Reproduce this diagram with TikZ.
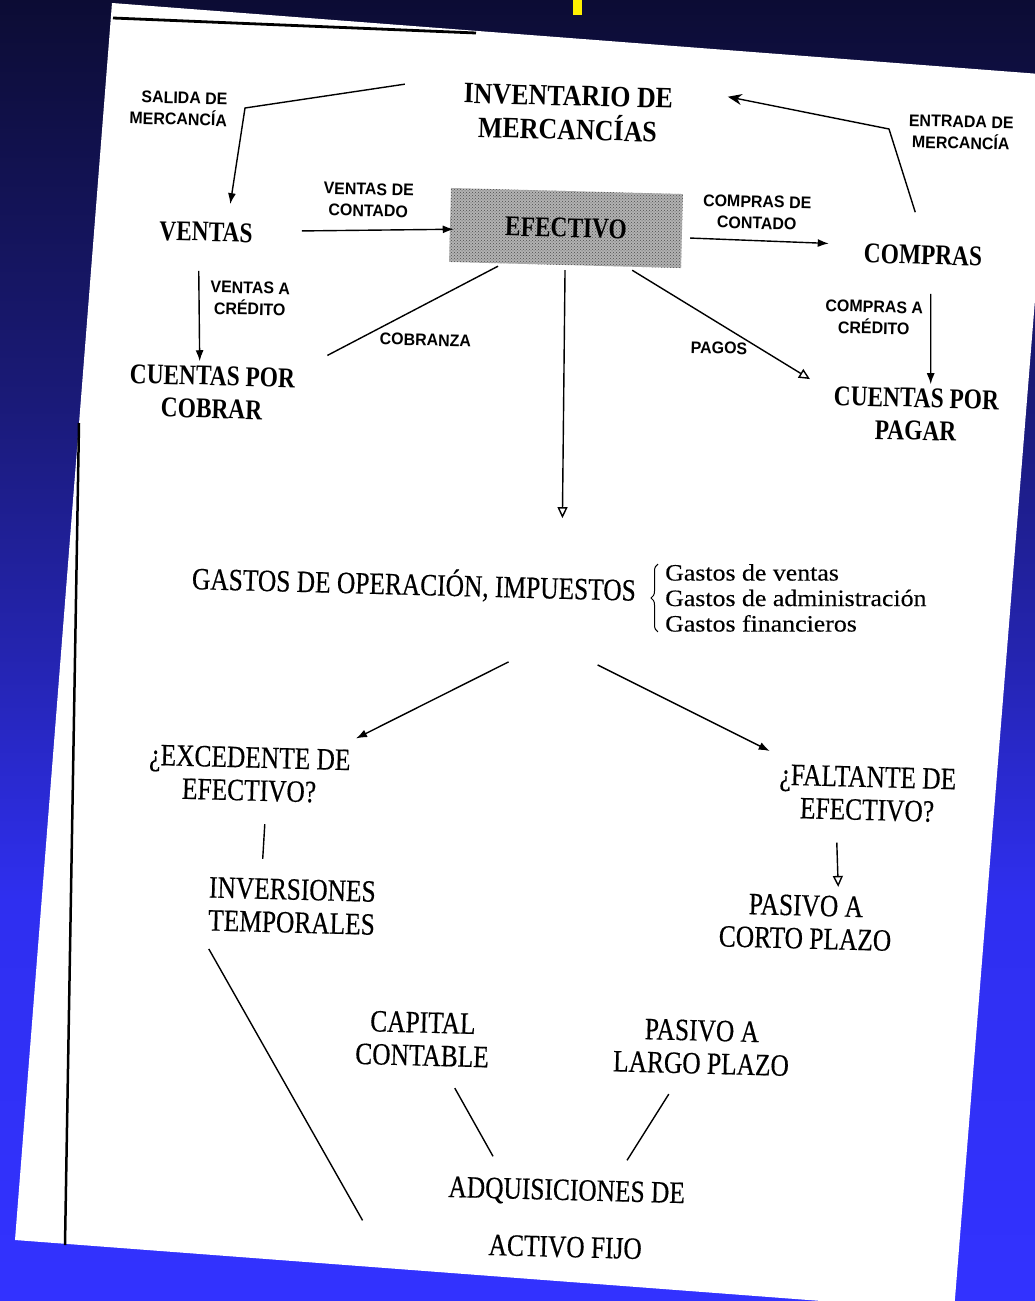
\documentclass[tikz,border=0pt]{standalone}
\usepackage{fontspec}
\setmainfont{Liberation Serif}
\newfontfamily\cabezafont[FakeStretch=0.82]{Liberation Serif}
\newfontfamily\invfont[FakeStretch=0.88]{Liberation Serif}
\newfontfamily\rubrofont[FakeStretch=0.82, FakeBold=0.4]{Liberation Serif}
\newfontfamily\gastosfont[FakeStretch=1.1, FakeBold=0.3]{Liberation Serif}
\newfontfamily\etiqfont[FakeStretch=0.95]{Liberation Sans}
\definecolor{azultop}{RGB}{12, 12, 52}
\definecolor{azulalto}{RGB}{26, 26, 120}
\definecolor{azulmedio}{RGB}{36, 36, 175}
\definecolor{azulbajo}{RGB}{47, 47, 240}
\definecolor{azulfondo}{RGB}{50, 50, 255}
\definecolor{amarillo}{RGB}{255, 240, 0}
\usetikzlibrary{arrows.meta, positioning, calc, decorations.pathreplacing, patterns}
\pgfdeclareverticalshading{fondo}{100bp}{color(0bp)=(azulfondo); color(25bp)=(azulfondo); color(40.4bp)=(azulbajo); color(50bp)=(azulmedio); color(59.6bp)=(azulalto); color(75bp)=(azultop); color(100bp)=(azultop)}

\begin{document}
\begin{tikzpicture}[
  x=1pt, y=-1pt,
  cabeza/.style={font=\cabezafont\bfseries\fontsize{28.5}{33}\selectfont, align=center, inner sep=0pt, rotate=-1.5},
  etiq/.style={font=\etiqfont\bfseries\fontsize{16.8}{21.5}\selectfont, align=center, inner sep=0pt, rotate=-1.5},
  rubro/.style={font=\rubrofont\fontsize{31}{33}\selectfont, align=center, inner sep=0pt, rotate=-1.5},
  linea/.style={line width=1.4pt},
  flecha/.style={linea, -{Latex[length=11pt, width=8pt]}},
  flechab/.style={linea, -{Triangle[open, length=11pt, width=10pt]}}
]
  \useasboundingbox (0,0) rectangle (1035,1301);

  % Fondo y hoja
  \begin{scope}
    \clip (0,0) rectangle (1035,1301);
    \shade[shading=fondo] (0,0) rectangle (1035,1301);
    \fill[white] (112,3) -- (1053,75) -- (954,1311) -- (15,1240) -- cycle;
    \draw[line width=2.8pt] (113,18) -- (476,33);
    \draw[line width=2.5pt] (79,423) -- (65,1245);
    \fill[amarillo] (573,0) rectangle (582,15);
  \end{scope}

  % Cuentas principales
  \node[cabeza, font=\invfont\bfseries\fontsize{29.5}{34}\selectfont] (inv) at (568,113) {INVENTARIO DE\\MERCANCÍAS};
  \node[cabeza, minimum width=232pt, minimum height=74pt, preaction={fill=black!30}, pattern=crosshatch dots, pattern color=black!70] (efect) at (566,228) {EFECTIVO};
  \node[cabeza] (ventas) at (206,232) {VENTAS};
  \node[cabeza] (compras) at (923,255) {COMPRAS};
  \node[cabeza] (cxc) at (212,392.5) {CUENTAS POR\\COBRAR};
  \node[cabeza] (cxp) at (916,414.5) {CUENTAS POR\\PAGAR};

  % Etiquetas de los flujos
  \node[etiq, align=right] (salidalbl) at (178.5,108.5) {SALIDA DE\\MERCANCÍA};
  \node[etiq] (ventascont) at (368.5,200) {VENTAS DE\\CONTADO};
  \node[etiq] (comprascont) at (757,212.5) {COMPRAS DE\\CONTADO};
  \node[etiq] (entradalbl) at (961,132.5) {ENTRADA DE\\MERCANCÍA};
  \node[etiq] (ventascred) at (250,298.5) {VENTAS A\\CRÉDITO};
  \node[etiq] (comprascred) at (874,317.5) {COMPRAS A\\CRÉDITO};
  \node[etiq] (cobranzalbl) at (425.5,340) {COBRANZA};
  \node[etiq] (pagoslbl) at (719,348) {PAGOS};

  % Gastos
  \node[rubro] (gastos) at (414,584) {GASTOS DE OPERACIÓN, IMPUESTOS};
  \node[font=\gastosfont\fontsize{23.5}{25.5}\selectfont, align=left, anchor=west, inner sep=0pt] (gastoslist) at (665,598) {Gastos de ventas\\Gastos de administración\\Gastos financieros};
  \draw[line width=1pt, decorate, decoration={brace, amplitude=7pt}] ([xshift=-7pt]gastoslist.south west) -- ([xshift=-7pt]gastoslist.north west);

  % Excedente y faltante
  \node[rubro] (exced) at (249.5,774) {¿EXCEDENTE DE\\EFECTIVO?};
  \node[rubro] (faltan) at (867.5,793.5) {¿FALTANTE DE\\EFECTIVO?};
  \node[rubro] (invtemp) at (292,906) {INVERSIONES\\TEMPORALES};
  \node[rubro] (pcp) at (805.5,922) {PASIVO A\\CORTO PLAZO};
  \node[rubro] (capital) at (422.5,1039) {CAPITAL\\CONTABLE};
  \node[rubro] (plp) at (701.5,1047) {PASIVO A\\LARGO PLAZO};
  \node[rubro, font=\rubrofont\fontsize{31}{57}\selectfont] (adqu) at (566,1218.5) {ADQUISICIONES DE\\ACTIVO FIJO};

  % Flujos de mercancia
  \coordinate (codosalida) at (245,108);
  \draw[flecha] ([shift={(-59,1)}]inv.north west) -- (codosalida) -- ([shift={(24,-18)}]ventas.north);
  \coordinate (codoentrada) at (889,129);
  \draw[linea, -{Stealth[length=14pt, width=11pt]}] ([shift={(-8,-33)}]compras.north) -- (codoentrada) -- ([shift={(55,-19)}]inv.east);

  % Flujos de efectivo
  \draw[flecha, shorten <=49pt, shorten >=-4pt] (ventas) -- (efect);
  \draw[flecha] ([shift={(8,7)}]efect.east) -- ([shift={(-35,-10)}]compras.west);
  \draw[flecha] ([shift={(-7,29)}]ventas.south) -- ([shift={(-13,-5)}]cxc.north);
  \draw[flecha] ([shift={(8,29)}]compras.south) -- ([shift={(14,-4)}]cxp.north);
  \draw[linea] ([shift={(-67,1)}]efect.south) -- ([shift={(32,-13)}]cxc.north east);
  \draw[flechab] ([shift={(-49,2)}]efect.south east) -- ([shift={(-24,-7)}]cxp.north west);
  \draw[flechab] ([shift={(0,5)}]efect.south) -- ([shift={(148,-50)}]gastos.north);

  % Excedente o faltante
  \draw[flecha] ([shift={(95,62)}]gastos.south) -- ([shift={(5,-11)}]exced.north east);
  \draw[flecha] ([shift={(184,65)}]gastos.south) -- ([shift={(-10,-13)}]faltan.north west);
  \draw[linea] ([shift={(16,23)}]exced.south) -- ([shift={(-30,-20)}]invtemp.north);
  \draw[flechab] ([shift={(-30,22)}]faltan.south) -- ([shift={(32,-8)}]pcp.north);

  % Activo fijo
  \draw[linea] ([shift={(1,18)}]invtemp.south west) -- ([shift={(-85,5)}]adqu.west);
  \draw[linea] ([shift={(33,22)}]capital.south) -- ([shift={(-74,-23)}]adqu.north);
  \draw[linea] ([shift={(-32,20)}]plp.south) -- ([shift={(60,-19)}]adqu.north);
\end{tikzpicture}
\end{document}
